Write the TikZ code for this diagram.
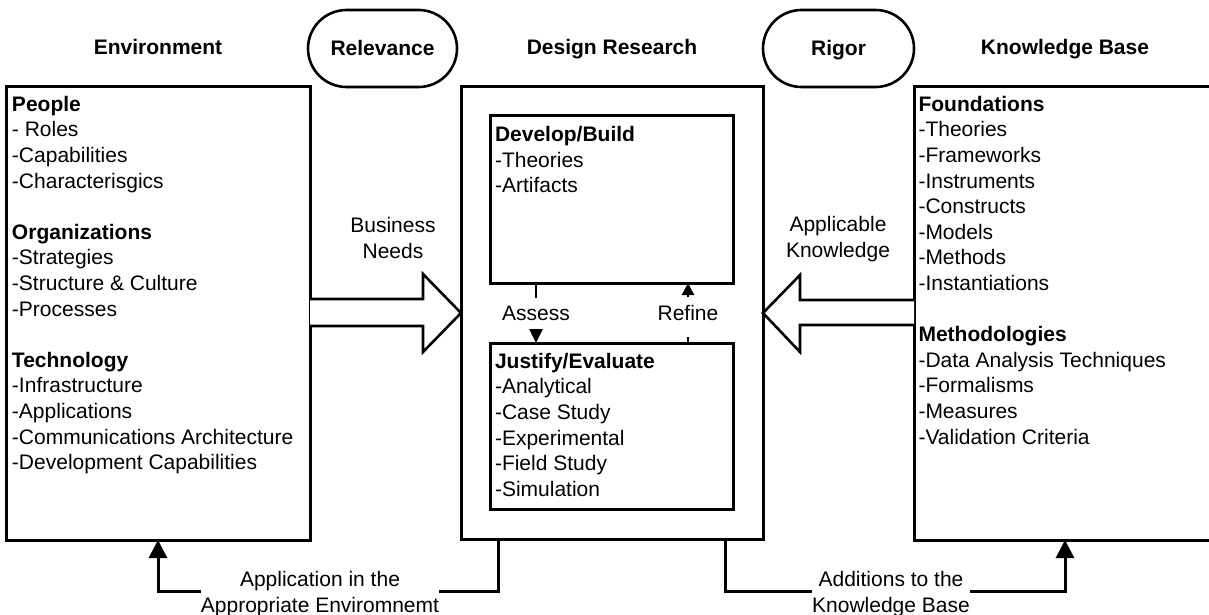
\documentclass[tikz,border=0pt]{standalone}
\usepackage{fontspec}
\setmainfont{Liberation Sans}
\usetikzlibrary{arrows.meta,shapes.misc,calc}
\begin{document}
\begin{tikzpicture}[x=1pt,y=-1pt,
  every node/.style={inner sep=0pt, outer sep=0pt, font=\fontsize{21}{25.6}\selectfont},
  box/.style={draw, line width=3pt, rectangle},
  pill/.style={draw, line width=2.6pt, rounded rectangle, minimum width=149pt, minimum height=77pt, text height=15pt, text depth=0pt, font=\fontsize{21}{25.6}\selectfont\bfseries},
  title/.style={anchor=base, font=\fontsize{21}{25.6}\selectfont\bfseries},
  body/.style={anchor=north west, align=left},
  lbl/.style={align=center},
  conn/.style={line width=3pt},
  thinconn/.style={line width=2.5pt},
  blk/.style={draw, fill=white, line width=2.6pt, line join=miter},
  bigtip/.style={-{Triangle[width=18pt,length=18pt]}},
  smalltip/.style={-{Triangle[width=13pt,length=14pt]}}
]
\useasboundingbox (0,0) rectangle (1209,615);
\clip (0,0) rectangle (1209,615);

% titles
\node[title] (tenv) at (158,55) {Environment};
\node[title] (tdr) at (612,55) {Design Research};
\node[title] (tkb) at (1065,55) {Knowledge Base};
\node[pill] (rel) at (382.5,48.5) {Relevance};
\node[pill, minimum width=151pt] (rig) at (838.5,48.5) {Rigor};

% main boxes
\node[box, minimum width=304pt, minimum height=453pt] (env) at (158,313.5) {};
\node[box, minimum width=302pt, minimum height=452pt] (dr) at (612,313) {};
\node[box, minimum width=320pt, minimum height=453pt] (kb) at (1074,313.5) {};
\node[box, minimum width=243pt, minimum height=167pt] (dev) at (611.5,199.5) {};
\node[box, minimum width=243pt, minimum height=166pt] (just) at (611.5,426) {};

% box texts
\node[body] (envtxt) at (12,96) {\textbf{People}\\- Roles\\-Capabilities\\-Characterisgics\\[25.6pt]\textbf{Organizations}\\-Strategies\\-Structure \& Culture\\-Processes\\[25.6pt]\textbf{Technology}\\-Infrastructure\\-Applications\\-Communications Architecture\\-Development Capabilities};
\node[body] (kbtxt) at (918.5,96) {\textbf{Foundations}\\-Theories\\-Frameworks\\-Instruments\\-Constructs\\-Models\\-Methods\\-Instantiations\\[25.6pt]\textbf{Methodologies}\\-Data Analysis Techniques\\-Formalisms\\-Measures\\-Validation Criteria};
\node[body] (devtxt) at (495,126.5) {\textbf{Develop/Build}\\-Theories\\-Artifacts};
\node[body] (justtxt) at (495,353) {\textbf{Justify/Evaluate}\\-Analytical\\-Case Study\\-Experimental\\-Field Study\\-Simulation};

% block arrows
\draw[blk] ($(env.north east)+(0,212)$) -- ++(113,0) -- ++(0,-25) -- ($(dr.north west)+(0,226)$) -- ++(-38,39) -- ++(0,-26) -- ++(-113,0);
\draw[blk] ($(kb.north west)+(0,213)$) -- ++(-114,0) -- ++(0,-25) -- ($(dr.north east)+(0,226)$) -- ++(37,39) -- ++(0,-27) -- ++(114,0);
\node[lbl, anchor=north] (bn) at (393,217.5) {Business\\Needs};
\node[lbl, anchor=north] (ak) at (838,216.5) {Applicable\\Knowledge};

% assess / refine
\node[anchor=base, inner sep=8pt] (assess) at (536,320.5) {Assess};
\node[anchor=base, inner sep=8pt] (refine) at (688,320.5) {Refine};
\draw[thinconn] (dev.south -| assess.north) -- (assess.north);
\draw[thinconn, smalltip] (assess.south) -- (assess.south |- just.north);
\draw[thinconn] ($(just.north -| refine.south)+(0,-6)$) -- (just.north -| refine.south);
\draw[thinconn, -{Triangle[width=12pt,length=12pt]}] (refine.north) -- (refine.north |- dev.south);

% bottom connectors
\draw[conn, bigtip] ([xshift=37pt]dr.south west) -- ++(0,52) -| (env.south);
\draw[conn, bigtip] ([xshift=-38pt]dr.south east) -- ++(0,52) -| ([xshift=151pt]kb.south west);
\node[lbl, anchor=north, fill=white] (app) at (320,571.5) {Application in the\\Appropriate Enviromnemt};
\node[lbl, anchor=north, fill=white] (add) at (891,571.5) {Additions to the\\Knowledge Base};
\end{tikzpicture}
\end{document}
